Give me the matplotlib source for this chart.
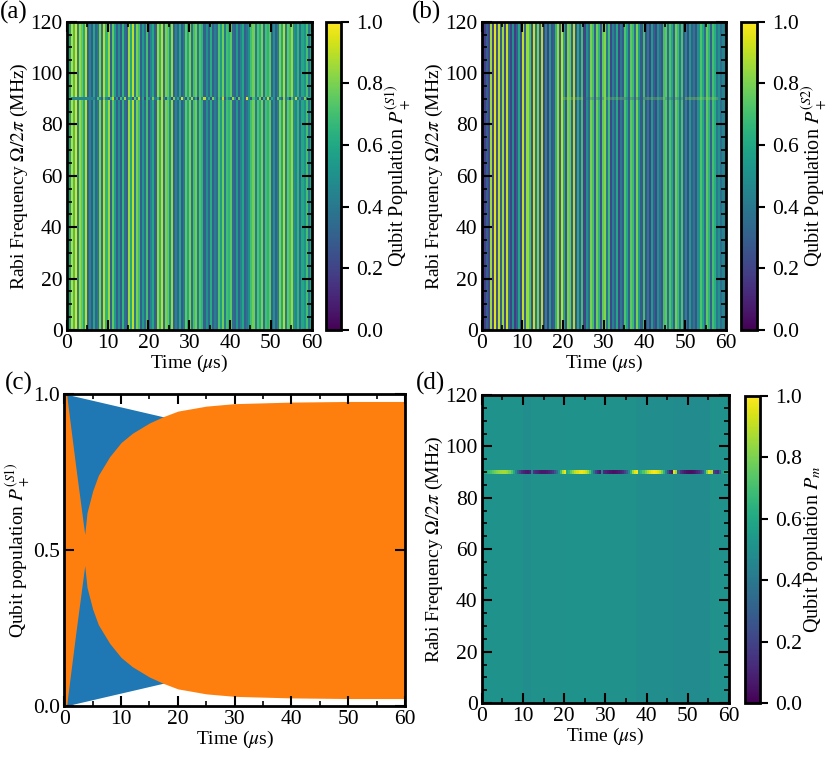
import numpy as np
import matplotlib
matplotlib.use("Agg")
import matplotlib.pyplot as plt
from matplotlib.ticker import MultipleLocator, FormatStrFormatter

# ---- data ----
t_span = (0, 60)            # time axis, us
f_span = (0, 120)           # Rabi frequency axis, MHz
f_line = 90                 # resonant row

# (a) P+^(S1): one value per 0.5 us column
a_cols = [0.85, 0.55, 0.9, 0.7, 0.95, 0.45, 0.85, 0.75, 0.6, 0.9,
          0.3, 0.45, 0.28, 0.6, 0.32, 0.4,
          0.8, 0.35, 0.9, 0.65, 0.85, 0.3, 0.75, 0.55,
          0.3, 0.5, 0.28, 0.65, 0.35, 0.3,
          0.85, 0.6, 0.9, 0.4, 0.8, 0.7,
          0.3, 0.55, 0.35, 0.7, 0.28, 0.45, 0.6, 0.3,
          0.85, 0.65, 0.9, 0.35, 0.8, 0.75, 0.5, 0.85,
          0.3, 0.45, 0.32, 0.6, 0.28, 0.4,
          0.75, 0.6, 0.8, 0.35, 0.7, 0.78, 0.4, 0.72, 0.65,
          0.3, 0.5, 0.33, 0.62, 0.3, 0.42, 0.35,
          0.72, 0.55, 0.78, 0.4, 0.7, 0.65, 0.75, 0.35,
          0.32, 0.55, 0.3, 0.45, 0.6, 0.3, 0.38, 0.5,
          0.7, 0.78, 0.4, 0.72, 0.62, 0.8, 0.35, 0.7, 0.65, 0.75,
          0.32, 0.5, 0.3, 0.42,
          0.8, 0.6, 0.88, 0.4, 0.75, 0.7, 0.85, 0.5,
          0.45, 0.65, 0.35, 0.6, 0.5, 0.7, 0.4, 0.6]
a_line = [0.85, 0.6, 0.45, 0.45, 0.45, 0.45, 0.45, 0.45, 0.45, 0.45,
          0.45, 0.45, 0.45, 0.45,
          0.3, 0.7, 0.5, 0.25, 0.8, 0.45, 0.35, 0.65, 0.9, 0.3,
          0.55, 0.2, 0.7, 0.4, 0.85, 0.3, 0.6, 0.5, 0.25, 0.75,
          0.45, 0.9, 0.3, 0.6, 0.2, 0.7, 0.5, 0.35, 0.8, 0.4,
          0.65, 0.25, 0.9, 0.45, 0.3, 0.7, 0.55, 0.2, 0.8, 0.4,
          0.6, 0.3, 0.95, 0.5, 0.25, 0.7, 0.4, 0.85, 0.3, 0.6,
          0.15, 0.75, 0.45, 0.9, 0.35, 0.6, 0.2, 0.8, 0.5, 0.3,
          0.7, 0.4, 0.9, 0.25, 0.65, 0.45, 0.3, 0.85, 0.55, 0.2,
          0.75, 0.4, 0.6, 0.3, 0.95, 0.45, 0.25, 0.7, 0.5, 0.35,
          0.8, 0.2, 0.65, 0.4, 0.9, 0.3, 0.6, 0.45, 0.25, 0.75,
          0.5, 0.3, 0.85, 0.4, 0.6, 0.2, 0.7, 0.45, 0.9, 0.35,
          0.55, 0.3, 0.8, 0.4, 0.65, 0.5]

# (b) P+^(S2)
b_cols = [0.25, 0.18, 0.3, 0.2, 0.85,
          0.2, 0.95, 0.25, 0.9, 0.3, 0.85, 0.22, 0.92, 0.35,
          0.2, 0.5, 0.18, 0.3, 0.6, 0.22,
          0.9, 0.3, 0.85, 0.7, 0.25, 0.92, 0.4, 0.8, 0.28, 0.88,
          0.2, 0.45, 0.18, 0.55, 0.25, 0.3, 0.65,
          0.85, 0.3, 0.9, 0.6, 0.25, 0.8, 0.75, 0.3, 0.88,
          0.25, 0.6, 0.3, 0.7, 0.2, 0.5, 0.35,
          0.8, 0.7, 0.3, 0.78, 0.65, 0.25, 0.75, 0.82, 0.4, 0.7,
          0.22, 0.45, 0.3, 0.6, 0.2, 0.4, 0.28,
          0.72, 0.6, 0.3, 0.75, 0.68, 0.35, 0.8, 0.55, 0.28, 0.7,
          0.25, 0.4, 0.2, 0.55, 0.3, 0.22, 0.5, 0.35, 0.25,
          0.7, 0.75, 0.35, 0.72, 0.6, 0.3, 0.78, 0.68, 0.4, 0.72,
          0.28, 0.45, 0.22, 0.55, 0.3, 0.4, 0.25, 0.5,
          0.72, 0.6, 0.35, 0.75, 0.65, 0.3, 0.7, 0.62,
          0.4, 0.5, 0.35, 0.45, 0.42]
b_line_edges = [20, 25, 30, 35, 40, 45, 50, 58]
b_line = [0.85, 0.3, 0.8, 0.25, 0.8, 0.3, 0.85]

# (c) envelopes of P+^(S1)
c_blue_t = [0.4, 17.4, 20]
c_blue_hi = [1.0, 0.928, 0.92]
c_blue_lo = [0.0, 0.072, 0.08]
c_orange_t = [0, 0.4, 2.0, 3.6, 4.0, 5.0, 6.0, 8.0, 10.0, 12.0, 15.0, 17.4,
              20, 25, 30, 40, 50, 60]
c_orange_hi = [1.0, 1.0, 0.77, 0.55, 0.62, 0.69, 0.74, 0.80, 0.845, 0.875,
               0.908, 0.928, 0.946, 0.962, 0.97, 0.975, 0.977, 0.977]
c_orange_lo = [0.0, 0.0, 0.23, 0.45, 0.38, 0.31, 0.26, 0.20, 0.155, 0.125,
               0.092, 0.072, 0.054, 0.038, 0.03, 0.025, 0.023, 0.023]

# (d) P_m: background bands + resonant row (0.5 us columns)
d_bg_edges = [0, 10, 12, 20.5, 28.8, 37.5, 46.5, 55.5, 60]
d_bg = [0.51, 0.49, 0.5, 0.51, 0.5, 0.49, 0.48, 0.5]
d_line = [0.55, 0.6, 0.62, 0.66,
          0.7, 0.74, 0.78, 0.81, 0.83, 0.85, 0.86, 0.86,
          0.84, 0.8, 0.72, 0.6,
          0.45, 0.3, 0.2, 0.14, 0.1,
          0.08, 0.07, 0.1,
          0.45,
          0.15, 0.12, 0.1, 0.08, 0.07, 0.07, 0.08, 0.1, 0.13, 0.17, 0.25,
          0.35, 0.5, 0.7, 0.88,
          0.97, 0.6,
          0.65, 0.75, 0.83, 0.9, 0.94, 0.97, 0.98, 0.96, 0.92, 0.85, 0.72, 0.55, 0.35, 0.2,
          0.12, 0.08, 0.45,
          0.12, 0.1, 0.08, 0.06, 0.05, 0.05, 0.06, 0.08, 0.1, 0.14, 0.2, 0.3, 0.45,
          0.65, 0.85, 0.95, 0.98,
          0.6, 0.65,
          0.72, 0.8, 0.88, 0.93, 0.97, 0.99, 0.98, 0.95, 0.9, 0.8, 0.65, 0.45, 0.25, 0.12,
          0.08, 0.95,
          0.85, 0.3,
          0.15, 0.1, 0.07, 0.05, 0.04, 0.04, 0.05, 0.07, 0.1, 0.14, 0.2, 0.3, 0.5, 0.8,
          0.95, 0.9,
          0.2, 0.15, 0.12, 0.3,
          0.55, 0.6, 0.62, 0.64]

# ---- style ----
plt.rcParams["font.family"] = ["Liberation Serif", "STIXGeneral", "DejaVu Serif"]
plt.rcParams["mathtext.fontset"] = "stix"
plt.rcParams["font.size"] = 14
plt.rcParams["axes.linewidth"] = 2.0
for ax_ in ("xtick", "ytick"):
    plt.rcParams[f"{ax_}.direction"] = "in"
    plt.rcParams[f"{ax_}.major.size"] = 7
    plt.rcParams[f"{ax_}.major.width"] = 1.5
    plt.rcParams[f"{ax_}.minor.size"] = 3.5
    plt.rcParams[f"{ax_}.minor.width"] = 1.2
    plt.rcParams[f"{ax_}.labelsize"] = 15.5
    plt.rcParams[f"{ax_}.major.pad"] = 3
plt.rcParams["xtick.top"] = True
plt.rcParams["ytick.right"] = True

W, H = 830, 761
fig = plt.figure(figsize=(W / 100, H / 100), dpi=100)


def box(x0, y0, x1, y1):
    # pixel box (top-left origin) -> figure fraction rect
    return [x0 / W, 1 - y1 / H, (x1 - x0) / W, (y1 - y0) / H]


ax_a = fig.add_axes(box(66.7, 21.7, 311.7, 330))
cax_a = fig.add_axes(box(326, 21.7, 340.7, 330))
ax_b = fig.add_axes(box(481.7, 21.7, 726, 330))
cax_b = fig.add_axes(box(740.7, 21.7, 756.7, 330))
ax_c = fig.add_axes(box(64.3, 394.3, 405, 705.7))
ax_d = fig.add_axes(box(481.7, 395, 729, 703))
cax_d = fig.add_axes(box(745, 396, 760, 703))

t_edges = np.linspace(t_span[0], t_span[1], len(a_cols) + 1)
f_edges = np.array(f_span, dtype=float)
norm = dict(cmap="viridis", vmin=0, vmax=1)


def heat_axes(ax):
    ax.set_xlim(*t_span)
    ax.set_ylim(*f_span)
    ax.xaxis.set_major_locator(MultipleLocator(10))
    ax.xaxis.set_minor_locator(MultipleLocator(5))
    ax.yaxis.set_major_locator(MultipleLocator(20))
    ax.yaxis.set_minor_locator(MultipleLocator(5))
    ax.set_xlabel(r"Time ($\mu$s)", labelpad=0)
    ax.set_ylabel(r"Rabi Frequency $\Omega/2\pi$ (MHz)", labelpad=0)
    ax.set_axisbelow(False)


def cbar(mesh, cax, label):
    cb = fig.colorbar(mesh, cax=cax)
    cb.set_ticks(np.arange(0, 1.01, 0.2))
    cb.ax.yaxis.set_major_formatter(FormatStrFormatter("%.1f"))
    cb.ax.tick_params(direction="out", left=False, right=True, length=6,
                      width=1.5, pad=5)
    cb.ax.minorticks_off()
    cb.outline.set_linewidth(2.0)
    cb.set_label(label, labelpad=0, fontsize=14.5)


# (a)
m_a = ax_a.pcolormesh(t_edges, f_edges, np.array(a_cols)[None, :], **norm)
ax_a.pcolormesh(t_edges, [f_line - 0.5, f_line + 0.5], np.array(a_line)[None, :], **norm)
heat_axes(ax_a)
cbar(m_a, cax_a, r"Qubit Population $P_+^{(S1)}$")

# (b)
m_b = ax_b.pcolormesh(t_edges, f_edges, np.array(b_cols)[None, :], **norm)
ax_b.pcolormesh(b_line_edges, [f_line - 0.5, f_line + 0.5], np.array(b_line)[None, :],
                alpha=0.3, **norm)
heat_axes(ax_b)
cbar(m_b, cax_b, r"Qubit Population $P_+^{(S2)}$")

# (c)
ax_c.fill_between(c_blue_t, c_blue_lo, c_blue_hi, color="#1f77b4", lw=0)
ax_c.fill_between(c_orange_t, c_orange_lo, c_orange_hi, color="#ff7f0e", lw=0)
ax_c.set_xlim(*t_span)
ax_c.set_ylim(0, 1)
ax_c.xaxis.set_major_locator(MultipleLocator(10))
ax_c.xaxis.set_minor_locator(MultipleLocator(5))
ax_c.yaxis.set_major_locator(MultipleLocator(0.5))
ax_c.yaxis.set_major_formatter(FormatStrFormatter("%.1f"))
ax_c.set_xlabel(r"Time ($\mu$s)", labelpad=0)
ax_c.set_ylabel(r"Qubit population $P_+^{(S1)}$", labelpad=0)

# (d)
m_d = ax_d.pcolormesh(d_bg_edges, f_edges, np.array(d_bg)[None, :], **norm)
ax_d.pcolormesh(t_edges, [f_line - 0.7, f_line + 0.7], np.array(d_line)[None, :], **norm)
heat_axes(ax_d)
cbar(m_d, cax_d, r"Qubit Population $P_m$")

for lbl, (px, py) in zip(["(a)", "(b)", "(c)", "(d)"],
                         [(0, 1), (412, 1), (5, 372), (416, 372)]):
    fig.text(px / W, 1 - py / H, lbl, fontsize=18, va="top", ha="left")

fig.savefig("out.png", dpi=100)
